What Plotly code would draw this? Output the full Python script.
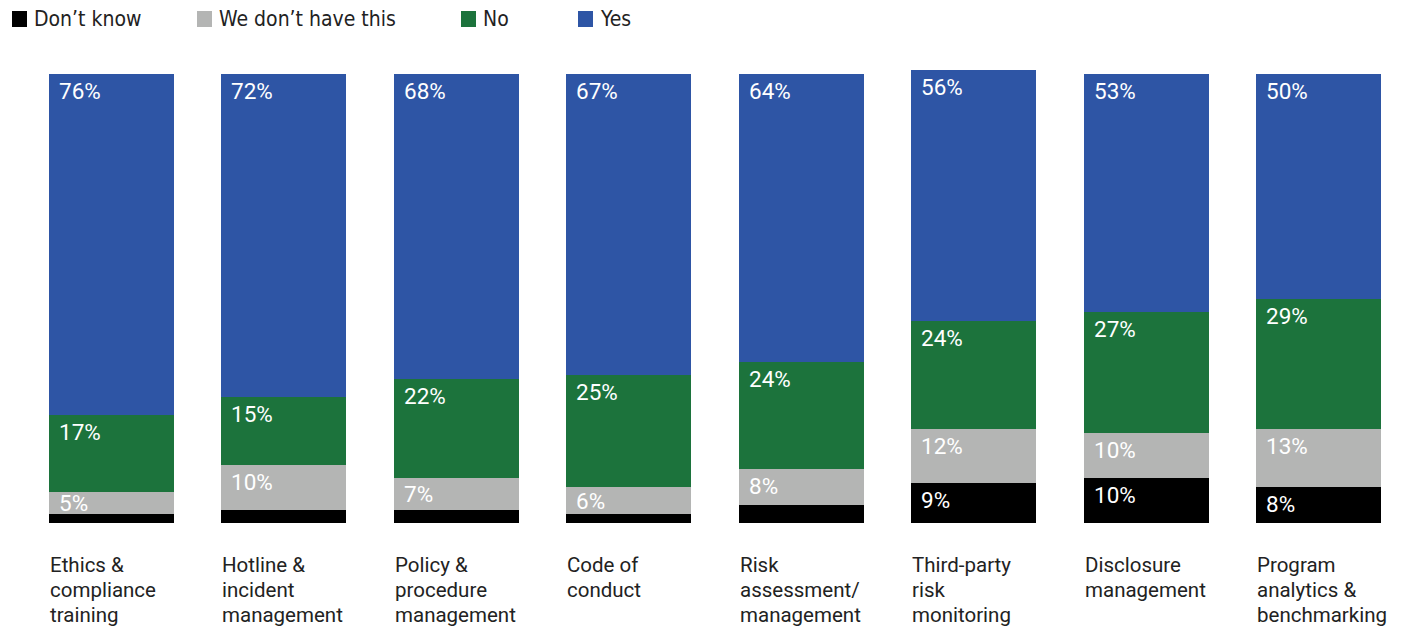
import plotly.graph_objects as go

categories = [
    ["Ethics &", "compliance", "training"],
    ["Hotline &", "incident", "management"],
    ["Policy &", "procedure", "management"],
    ["Code of", "conduct"],
    ["Risk", "assessment/", "management"],
    ["Third-party", "risk", "monitoring"],
    ["Disclosure", "management"],
    ["Program", "analytics &", "benchmarking"],
]
dont_know = [2, 3, 3, 2, 4, 9, 10, 8]
dont_have = [5, 10, 7, 6, 8, 12, 10, 13]
no_vals = [17, 15, 22, 25, 24, 24, 27, 29]
yes_vals = [76, 72, 68, 67, 64, 56, 53, 50]

series = [
    ("Don\u2019t know", dont_know, "#000000"),
    ("We don\u2019t have this", dont_have, "#b4b5b4"),
    ("No", no_vals, "#1c733c"),
    ("Yes", yes_vals, "#2e55a5"),
]

W, H = 1406, 629
TOP, BOTTOM = 70, 523
Y_MAX = 101
px_per_unit = (BOTTOM - TOP) / Y_MAX
slot = (1256 - 49) / 7.0
x0_px = 111.5
BAR_W = 125 / slot
x_range = [-x0_px / slot, (W - x0_px) / slot]
xs = list(range(len(categories)))

fig = go.Figure()
for name, vals, color in series:
    fig.add_trace(go.Bar(
        x=xs, y=vals, name=name, marker_color=color, marker_line_width=0,
        width=BAR_W, showlegend=False, hoverinfo="skip",
    ))

annotations = []
label_font = dict(family="Roboto, 'Open Sans', sans-serif", size=22.5, color="white")
base = [0] * len(categories)
for name, vals, color in series:
    for i, v in enumerate(vals):
        top = base[i] + v
        if v >= 5:
            # label sits near the segment top, centred in short segments
            drop = min(17 / px_per_unit, v / 2)
            annotations.append(dict(
                x=i - BAR_W / 2, y=top - drop, xref="x", yref="y",
                text=f"{v}%", showarrow=False, xanchor="left", yanchor="middle",
                xshift=8, font=label_font,
            ))
        base[i] = top

# category names under each bar, left-aligned with the bar edge
for i, lines in enumerate(categories):
    for j, line in enumerate(lines):
        annotations.append(dict(
            x=i - BAR_W / 2, y=0, xref="x", yref="paper",
            text=line, showarrow=False, xanchor="left", yanchor="middle",
            xshift=-1, yshift=-(42 + 25 * j),
            font=dict(family="Roboto, 'Open Sans', sans-serif", size=20.5, color="#222222"),
        ))

# legend row across the top
ph = BOTTOM - TOP
def py(v):
    return (BOTTOM - v) / ph

legend_items = [("Don\u2019t know", "#000000", 12), ("We don\u2019t have this", "#b4b5b4", 197),
                ("No", "#1c733c", 461), ("Yes", "#2e55a5", 578)]
shapes = []
for text, color, lx in legend_items:
    shapes.append(dict(type="rect", xref="paper", yref="paper",
                       x0=lx / W, x1=(lx + 15) / W, y0=py(27), y1=py(11),
                       fillcolor=color, line_width=0))
    annotations.append(dict(
        x=(lx + 20) / W, y=py(19), xref="paper", yref="paper", text=text,
        showarrow=False, xanchor="left", yanchor="middle",
        font=dict(family="'Liberation Sans Narrow', 'DejaVu Sans Condensed', sans-serif",
                  size=21, color="#222222"),
    ))

fig.update_layout(
    width=W, height=H, barmode="stack", bargap=0,
    margin=dict(l=0, r=0, t=TOP, b=H - BOTTOM),
    paper_bgcolor="white", plot_bgcolor="white",
    xaxis=dict(range=x_range, visible=False, fixedrange=True),
    yaxis=dict(range=[0, Y_MAX], visible=False, fixedrange=True),
    annotations=annotations, shapes=shapes,
)

fig.write_html("out.html", config={"displayModeBar": False})
